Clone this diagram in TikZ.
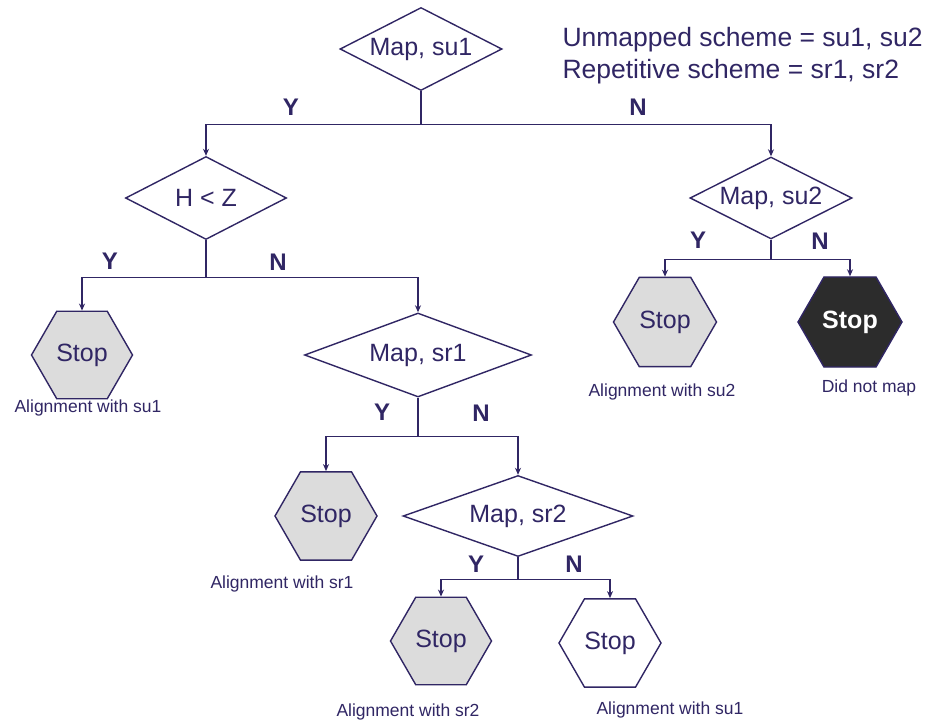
\documentclass[tikz,border=0pt]{standalone}
\usepackage{fontspec}
\setmainfont{Liberation Sans}
\usetikzlibrary{shapes.geometric,arrows.meta}
\definecolor{ink}{RGB}{48,38,100}
\definecolor{stopgray}{RGB}{220,220,220}
\definecolor{stopdark}{RGB}{44,44,44}
\begin{document}
\begin{tikzpicture}[x=1pt,y=-1pt,
  every node/.style={text=ink},
  decision/.style={diamond,draw=ink,line width=1.4pt,fill=white,inner sep=0pt,shape aspect=2,
    font=\fontsize{25}{29}\selectfont},
  stopbox/.style={regular polygon,regular polygon sides=6,draw=ink,line width=1.4pt,inner sep=0pt,
    font=\fontsize{25}{29}\selectfont},
  graystop/.style={stopbox,fill=stopgray},
  darkstop/.style={stopbox,fill=stopdark,text=white,font=\bfseries\fontsize{25}{29}\selectfont},
  whitestop/.style={stopbox,fill=white},
  link/.style={draw=ink,line width=1.4pt},
  stem/.style={draw=ink,line width=2.3pt},
  arr/.style={draw=ink,line width=1.4pt,-{Stealth[length=7pt,width=6pt]}},
  yn/.style={font=\bfseries\fontsize{24}{28}\selectfont},
  caption/.style={font=\fontsize{17.5}{20}\selectfont},
  legend/.style={anchor=west,font=\fontsize{26.5}{31}\selectfont}]

\fill[white] (0,0) rectangle (929,723);
\useasboundingbox (0,0) rectangle (929,723);

% decisions
\node[decision,minimum width=162pt,minimum height=83pt] (m1)  at (421,49)  {Map, su1};
\node[decision,minimum width=161pt,minimum height=83pt] (hz)  at (206,198) {H < Z};
\node[decision,minimum width=162pt,minimum height=82pt] (su2) at (771,198) {Map, su2};
\node[decision,minimum width=227pt,minimum height=84pt] (sr1) at (418,355) {Map, sr1};
\node[decision,minimum width=230pt,minimum height=81pt] (sr2) at (518,516) {Map, sr2};

% terminals
\node[graystop,minimum size=101pt] (t1) at (82,355)  {Stop};
\node[graystop,minimum size=103pt] (t2) at (665,322) {Stop};
\node[darkstop,minimum size=104pt] (t3) at (850,322) {Stop};
\node[graystop,minimum size=102pt] (t4) at (326,516) {Stop};
\node[graystop,minimum size=101pt] (t5) at (441,641) {Stop};
\node[whitestop,minimum size=102pt] (t6) at (610,643) {Stop};

% captions
\node[caption] (c1) at (88,408)  {Alignment with su1};
\node[caption] (c2) at (662,392) {Alignment with su2};
\node[caption] (c3) at (869,388) {Did not map};
\node[caption] (c4) at (282,584) {Alignment with sr1};
\node[caption] (c5) at (408,712) {Alignment with sr2};
\node[caption] (c6) at (670,710) {Alignment with su1};

% legend
\node[legend] (l1) at (559,40) {Unmapped scheme = su1, su2};
\node[legend] (l2) at (559,72) {Repetitive scheme = sr1, sr2};

% branches
\draw[link] (m1.south) -- ++(0,33) coordinate (j1);
\draw[arr] (j1) -| (hz.north);
\draw[arr] (j1) -| (su2.north);

\draw[stem] (hz.south) -- ++(0,37) coordinate (j2);
\draw[arr] (j2) -| (t1.north);
\draw[arr] (j2) -| (sr1.north);

\draw[stem] (sr1.south) -- ++(0,39) coordinate (j3);
\draw[arr] (j3) -| (t4.north);
\draw[arr] (j3) -| (sr2.north);

\draw[stem] (sr2.south) -- ++(0,22) coordinate (j4);
\draw[arr] (j4) -| (t5.north);
\draw[arr] (j4) -| (t6.north);

\draw[link] (su2.south) -- ++(0,20) coordinate (j5);
\draw[arr] (j5) -| (t2.north);
\draw[arr] (j5) -| (t3.north);

% branch labels
\node[yn] (y1) at (291,107) {Y};
\node[yn] (n1) at (638,107) {N};
\node[yn] (y2) at (110,261) {Y};
\node[yn] (n2) at (278,262) {N};
\node[yn] (y3) at (382,412) {Y};
\node[yn] (n3) at (481,413) {N};
\node[yn] (y4) at (476,564) {Y};
\node[yn] (n4) at (574,564) {N};
\node[yn] (y5) at (698,240) {Y};
\node[yn] (n5) at (820,241) {N};
\end{tikzpicture}
\end{document}
